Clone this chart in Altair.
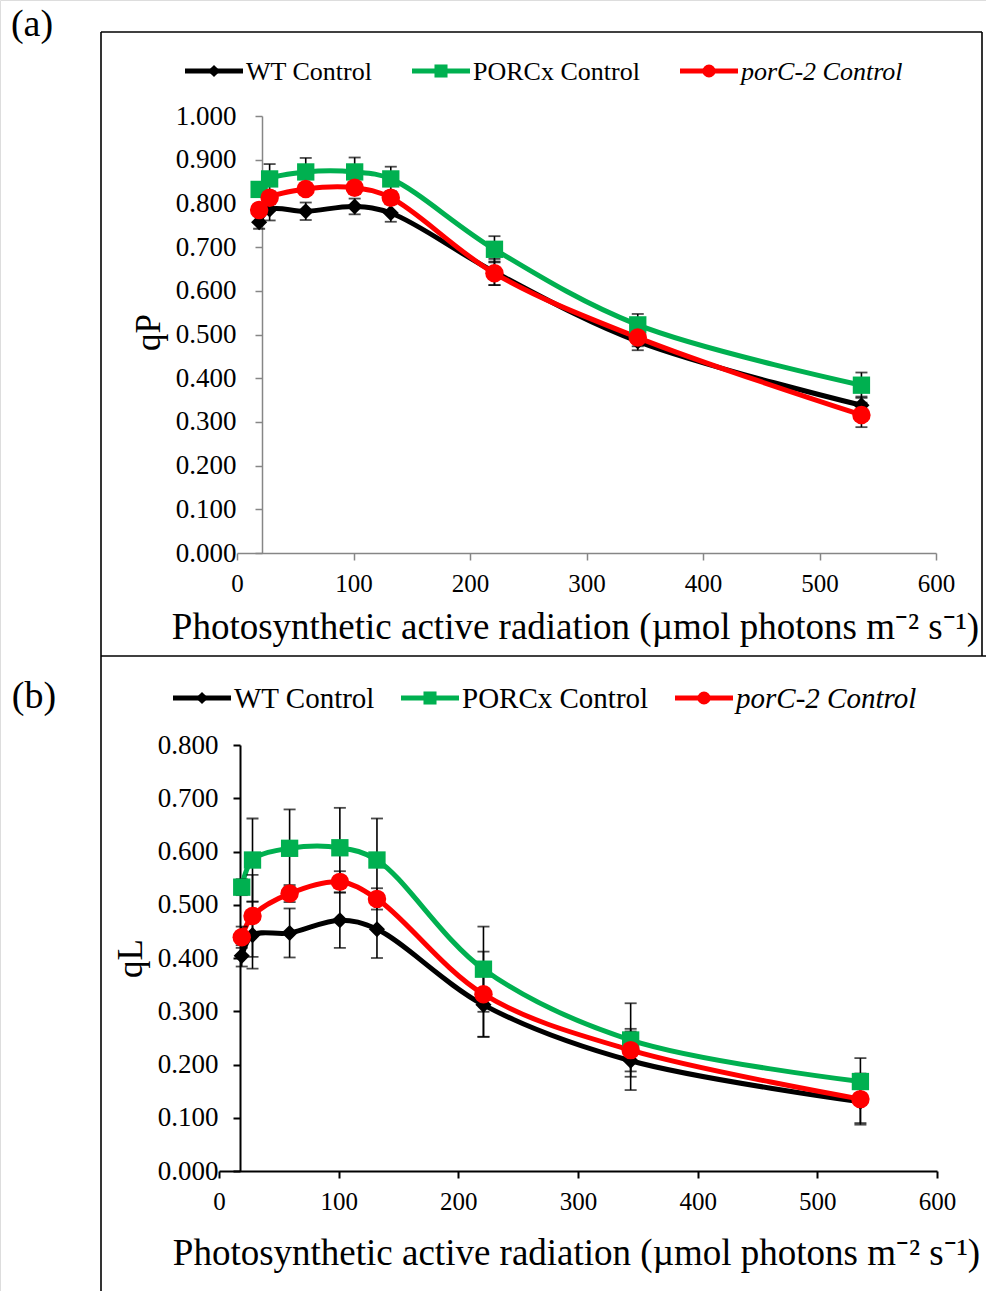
import altair as alt
import pandas as pd

# ---------------- data ----------------
PAR = [19, 28, 59, 101, 132, 221, 344, 536]
SERIES = ["WT Control", "PORCx Control", "porC-2 Control"]
COLORS = ["#000000", "#00B050", "#FF0000"]
SHAPES = ["diamond", "square", "circle"]
MARK_SIZES = [260, 340, 340]

X_TICKS = [0, 100, 200, 300, 400, 500, 600]
QP_TICKS = [0.0, 0.1, 0.2, 0.3, 0.4, 0.5, 0.6, 0.7, 0.8, 0.9, 1.0]
QL_TICKS = [0.0, 0.1, 0.2, 0.3, 0.4, 0.5, 0.6, 0.7, 0.8]

# panel (a) qP
QP_WT = [0.757, 0.786, 0.782, 0.793, 0.778, 0.643, 0.484, 0.338]
QP_WT_ERR = [0.015, 0.025, 0.020, 0.018, 0.020, 0.030, 0.020, 0.020]
QP_PORCX = [0.832, 0.856, 0.872, 0.872, 0.856, 0.695, 0.522, 0.384]
QP_PORCX_ERR = [0.012, 0.034, 0.032, 0.033, 0.028, 0.030, 0.025, 0.029]
QP_PORC2 = [0.785, 0.813, 0.833, 0.836, 0.813, 0.640, 0.493, 0.316]
QP_PORC2_ERR = [0.010, 0.015, 0.012, 0.012, 0.012, 0.027, 0.020, 0.028]

# panel (b) qL
QL_WT = [0.404, 0.443, 0.447, 0.471, 0.454, 0.312, 0.207, 0.130]
QL_WT_ERR = [0.020, 0.063, 0.046, 0.052, 0.054, 0.060, 0.055, 0.040]
QL_PORCX = [0.533, 0.584, 0.606, 0.607, 0.584, 0.379, 0.246, 0.168]
QL_PORCX_ERR = [0.015, 0.078, 0.073, 0.075, 0.078, 0.080, 0.069, 0.044]
QL_PORC2 = [0.439, 0.479, 0.521, 0.543, 0.511, 0.332, 0.227, 0.135]
QL_PORC2_ERR = [0.020, 0.077, 0.016, 0.020, 0.020, 0.080, 0.040, 0.048]

X_TITLE = "Photosynthetic active radiation (\u00b5mol photons m\u207b\u00b2 s\u207b\u00b9)"
FONT = "Liberation Serif"
W, H = 986, 1291


def long_df(vals, errs):
    rows = []
    for s, v, e in zip(SERIES, vals, errs):
        for x, y, er in zip(PAR, v, e):
            rows.append({"par": x, "series": s, "value": y, "lo": y - er, "hi": y + er})
    return pd.DataFrame(rows)


def panel(df, x_range, y_range, y_max, y_ticks, y_title, axis_color, axis_w,
          y_axis_px, x_axis_px, y_lab_pad, title_x_center, x_title_y, y_title_x, y_title_y):
    xs = alt.Scale(domain=[0, 600], range=x_range, nice=False, zero=False)
    ys = alt.Scale(domain=[0, y_max], range=y_range, nice=False, zero=False)
    x_axis = alt.Axis(
        orient="bottom", offset=-(H - x_axis_px), values=X_TICKS, format="d",
        grid=False, domainColor=axis_color, tickColor=axis_color,
        domainWidth=axis_w, tickWidth=axis_w, tickSize=7,
        labelFont=FONT, labelFontSize=25, labelColor="black", labelPadding=11,
        labelOverlap=False, labelFlush=False,
        title=X_TITLE, titleFont=FONT, titleFontSize=37, titleFontWeight="normal",
        titleColor="black", titleX=title_x_center, titleY=x_title_y,
        titleAlign="center", titleBaseline="middle", titleAnchor="start",
    )
    y_axis = alt.Axis(
        orient="left", offset=-y_axis_px, values=y_ticks, format=".3f",
        grid=False, domainColor=axis_color, tickColor=axis_color,
        domainWidth=axis_w, tickWidth=axis_w, tickSize=7,
        labelFont=FONT, labelFontSize=27, labelColor="black", labelPadding=y_lab_pad,
        labelOverlap=False, labelFlush=False,
        title=y_title, titleFont=FONT, titleFontSize=35, titleFontWeight="normal",
        titleColor="black", titleAngle=-90, titleX=y_title_x - y_axis_px, titleY=y_title_y,
        titleAlign="center", titleBaseline="middle", titleAnchor="start",
    )
    x_enc = alt.X("par:Q", scale=xs, axis=x_axis)
    color = alt.Color("series:N", scale=alt.Scale(domain=SERIES, range=COLORS), legend=None)
    base = alt.Chart(df)
    lines = base.mark_line(interpolate="catmull-rom", strokeWidth=5).encode(
        x=x_enc, y=alt.Y("value:Q", scale=ys, axis=y_axis), color=color,
        detail="series:N",
    )
    bars = base.mark_rule(color="black", strokeWidth=1.6).encode(
        x=x_enc, y=alt.Y("lo:Q", scale=ys, axis=y_axis), y2="hi:Q"
    )
    cap_lo = base.mark_tick(orient="horizontal", color="black", size=12, thickness=1.8).encode(
        x=x_enc, y=alt.Y("lo:Q", scale=ys, axis=y_axis)
    )
    cap_hi = base.mark_tick(orient="horizontal", color="black", size=12, thickness=1.8).encode(
        x=x_enc, y=alt.Y("hi:Q", scale=ys, axis=y_axis)
    )
    points = base.mark_point(filled=True, opacity=1).encode(
        x=x_enc, y=alt.Y("value:Q", scale=ys, axis=y_axis), color=color,
        shape=alt.Shape("series:N", scale=alt.Scale(domain=SERIES, range=SHAPES), legend=None),
        size=alt.Size("series:N", scale=alt.Scale(domain=SERIES, range=MARK_SIZES), legend=None),
    )
    return alt.layer(lines, bars, cap_lo, cap_hi, points)


dummy = alt.Chart(pd.DataFrame({"d": [0]}))


def rule(x1, x2, y1, y2, w=1.6):
    return dummy.mark_rule(color="black", strokeWidth=w).encode(
        x=alt.value(x1), x2=alt.value(x2), y=alt.value(y1), y2=alt.value(y2)
    )


def legend_item(idx, x0, y, text_x, fs):
    line = dummy.mark_rule(color=COLORS[idx], strokeWidth=5).encode(
        x=alt.value(x0), x2=alt.value(x0 + 58), y=alt.value(y)
    )
    mk = dummy.mark_point(filled=True, opacity=1, shape=SHAPES[idx], color=COLORS[idx],
                          size=[150, 170, 170][idx]).encode(
        x=alt.value(x0 + 29), y=alt.value(y)
    )
    txt = dummy.mark_text(align="left", baseline="middle", font=FONT, fontSize=fs,
                          color="black",
                          fontStyle="italic" if idx == 2 else "normal").encode(
        x=alt.value(text_x), y=alt.value(y + 1), text=alt.value(SERIES[idx])
    )
    return [line, mk, txt]


def label(t, x, y):
    return dummy.mark_text(align="center", baseline="middle", font=FONT, fontSize=38,
                           color="black").encode(x=alt.value(x), y=alt.value(y), text=alt.value(t))


df_a = long_df([QP_WT, QP_PORCX, QP_PORC2], [QP_WT_ERR, QP_PORCX_ERR, QP_PORC2_ERR])
df_b = long_df([QL_WT, QL_PORCX, QL_PORC2], [QL_WT_ERR, QL_PORCX_ERR, QL_PORC2_ERR])

panel_a = panel(df_a, [237, 936], [553, 116], 1.0, QP_TICKS, "qP", "#868686", 1.5,
                262, 553, 19, 575, 74, 148, 332)
panel_b = panel(df_b, [219, 937], [1171, 745], 0.8, QL_TICKS, "qL", "black", 2,
                240, 1171, 15, 576, 82, 130, 958)

decor = [
    rule(101, 982, 32, 32), rule(101, 986, 656, 656),
    rule(101, 101, 32, 1291), rule(982, 982, 32, 656),
    label("(a)", 32, 25), label("(b)", 34, 697),
]
decor += legend_item(0, 185, 71, 246, 26) + legend_item(1, 412, 71, 473, 26) + legend_item(2, 680, 71, 741, 26)
decor += legend_item(0, 173, 698, 234, 29) + legend_item(1, 401, 698, 462, 29) + legend_item(2, 675, 698, 736, 29)

chart = alt.layer(panel_a, panel_b, *decor).resolve_scale(
    x="independent", y="independent"
).properties(
    width=W, height=H, padding=0,
    autosize=alt.AutoSizeParams(type="none"),
    background="white",
).configure_view(stroke=None).configure(font=FONT)

chart.save("out.html", embed_options={"renderer": "svg", "actions": False})
